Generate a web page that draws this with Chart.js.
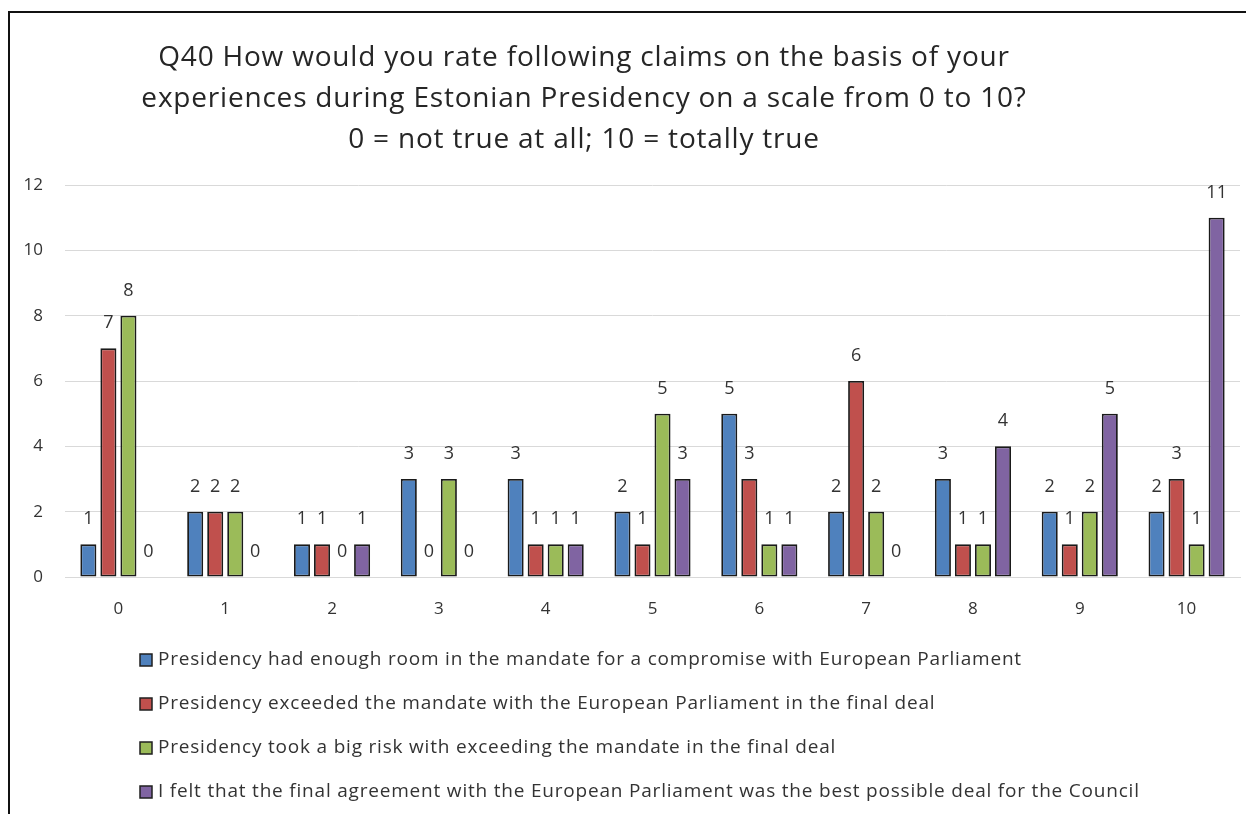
<!DOCTYPE html>
<html>
<head>
<meta charset="utf-8">
<title>Q40 Estonian Presidency</title>
<script src="https://cdn.jsdelivr.net/npm/chart.js@4.4.1/dist/chart.umd.min.js"></script>
<style>
  html, body { margin: 0; padding: 0; background: #fff; overflow: hidden; }
  #wrap { position: relative; width: 1246px; height: 814px; }
  #frame {
    position: absolute; left: 8px; top: 11px; width: 1400px; height: 900px;
    border: 2px solid #111; box-sizing: border-box;
  }
  #chart { position: absolute; left: 0; top: 0; }
</style>
</head>
<body>
<div id="wrap">
  <div id="frame"></div>
  <canvas id="chart" width="1246" height="814"></canvas>
</div>
<script>
const FONT = '"Open Sans", Lato, sans-serif';
const TEXT_COLOR = '#333';

const titleLines = [
  'Q40 How would you rate following claims on the basis of your',
  'experiences during Estonian Presidency on a scale from 0 to 10?',
  '0 = not true at all; 10 = totally true',
];

const categories = ['0', '1', '2', '3', '4', '5', '6', '7', '8', '9', '10'];
const yTicks = [0, 2, 4, 6, 8, 10, 12];

const seriesNames = [
  'Presidency had enough room in the mandate for a compromise with European Parliament',
  'Presidency exceeded the mandate with the European Parliament in the final deal',
  'Presidency took a big risk with exceeding the mandate in the final deal',
  'I felt that the final agreement with the European Parliament was the best possible deal for the Council',
];
const seriesColors = ['#4f81bd', '#c0504d', '#9bbb59', '#8064a2'];

const enoughRoom = [1, 2, 1, 3, 3, 2, 5, 2, 3, 2, 2];
const exceeded = [7, 2, 1, 0, 1, 1, 3, 6, 1, 1, 3];
const bigRisk = [8, 2, 0, 3, 1, 5, 1, 2, 1, 2, 1];
const bestDeal = [0, 0, 1, 0, 1, 3, 1, 0, 4, 5, 11];

const seriesValues = [enoughRoom, exceeded, bigRisk, bestDeal];

// value labels above each bar (Excel-style "outside end")
const valueLabels = {
  id: 'valueLabels',
  afterDatasetsDraw(chart) {
    const { ctx } = chart;
    ctx.save();
    ctx.font = `18px ${FONT}`;
    ctx.fillStyle = TEXT_COLOR;
    ctx.textAlign = 'center';
    ctx.textBaseline = 'middle';
    chart.data.datasets.forEach((ds, i) => {
      chart.getDatasetMeta(i).data.forEach((bar, j) => {
        ctx.fillText(String(ds.data[j]), bar.x, bar.y - 25);
      });
    });
    ctx.restore();
  },
};

// three-line title, slightly left of the canvas centre like the original
const titleBlock = {
  id: 'titleBlock',
  afterDraw(chart) {
    const { ctx } = chart;
    ctx.save();
    ctx.font = `28px ${FONT}`;
    ctx.letterSpacing = '0.8px';
    ctx.fillStyle = '#262626';
    ctx.textAlign = 'center';
    ctx.textBaseline = 'middle';
    titleLines.forEach((line, i) => {
      ctx.fillText(line, 584, 58 + i * 41);
    });
    ctx.restore();
  },
};

// vertical legend under the axis, left aligned
const stackedLegend = {
  id: 'stackedLegend',
  afterDraw(chart) {
    const { ctx } = chart;
    ctx.save();
    ctx.textBaseline = 'middle';
    chart.data.datasets.forEach((ds, i) => {
      const y = 660 + i * 44;
      ctx.letterSpacing = '0px';
      ctx.fillStyle = ds.backgroundColor;
      ctx.fillRect(140, y - 6, 12, 12);
      ctx.lineWidth = 1.5;
      ctx.strokeStyle = '#1f1f1f';
      ctx.strokeRect(140, y - 6, 12, 12);
      ctx.font = `19px ${FONT}`;
      ctx.letterSpacing = '0.8px';
      ctx.fillStyle = TEXT_COLOR;
      ctx.fillText(ds.label, 158, y);
    });
    ctx.restore();
  },
};

function buildDatasets() {
  return seriesValues.map((values, i) => ({
    label: seriesNames[i],
    data: values,
    backgroundColor: seriesColors[i],
    borderColor: '#1a1a1a',
    borderWidth: 1.8,
    borderSkipped: false,
    categoryPercentage: 0.75,
    barPercentage: 0.8,
  }));
}

function drawChart() {
  const ctx = document.getElementById('chart');
  new Chart(ctx, {
    type: 'bar',
    data: { labels: categories, datasets: buildDatasets() },
    plugins: [valueLabels, titleBlock, stackedLegend],
    options: {
      responsive: false,
      animation: false,
      layout: { padding: { left: 0, right: 6, top: 185, bottom: 187 } },
      plugins: {
        legend: { display: false },
        title: { display: false },
        tooltip: { enabled: false },
      },
      scales: {
        x: {
          grid: { display: false, drawTicks: false },
          border: { display: true, color: '#d9d9d9', width: 1 },
          ticks: { color: TEXT_COLOR, font: { family: FONT, size: 17 }, padding: 22 },
          afterFit: (scale) => { scale.height = 50; },
        },
        y: {
          min: 0,
          max: 12,
          afterBuildTicks: (scale) => { scale.ticks = yTicks.map((v) => ({ value: v })); },
          grid: { color: '#d9d9d9', lineWidth: 1, drawTicks: false },
          border: { display: false },
          ticks: { color: TEXT_COLOR, font: { family: FONT, size: 17 }, padding: 22 },
          afterFit: (scale) => { scale.width = 65; },
        },
      },
    },
  });
}

drawChart();
</script>
</body>
</html>
